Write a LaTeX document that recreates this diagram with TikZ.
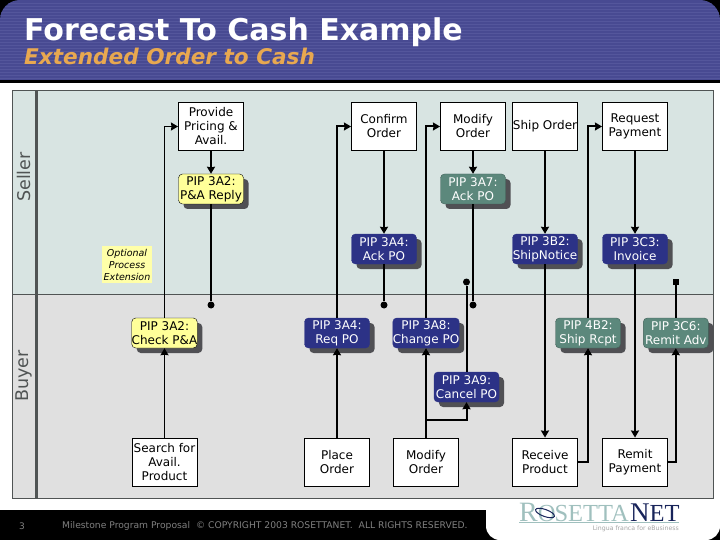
\documentclass[tikz,border=0pt]{standalone}
\usepackage{fontspec}
\setmainfont{DejaVu Sans}
\newfontfamily\logofont{Liberation Serif}
\definecolor{hdrblue}{RGB}{72,74,146}
\definecolor{hdrstripe}{RGB}{84,86,156}
\definecolor{subtitleorange}{RGB}{232,168,80}
\definecolor{sellerbg}{RGB}{216,228,226}
\definecolor{buyerbg}{RGB}{224,224,224}
\definecolor{lanegray}{RGB}{80,84,84}
\definecolor{pipyellow}{RGB}{255,255,153}
\definecolor{pipblue}{RGB}{44,50,134}
\definecolor{pipgreen}{RGB}{92,136,124}
\definecolor{shadowgray}{RGB}{80,80,84}
\definecolor{footgray}{RGB}{128,128,128}
\definecolor{logoteal}{RGB}{160,192,190}
\definecolor{logonavy}{RGB}{24,36,90}
\usetikzlibrary{arrows.meta,positioning,shadows}
\begin{document}
\begin{tikzpicture}[x=1pt, y=-1pt,
  every node/.style={font=\fontsize{12}{14}\selectfont, align=center, inner sep=0pt},
  activity/.style={draw=black, fill=white, line width=1pt, minimum width=65pt, minimum height=48.5pt},
  pip/.style={rounded corners=4pt, minimum width=65pt, minimum height=30pt,
              drop shadow={shadow xshift=5pt, shadow yshift=-5pt, fill=shadowgray, opacity=1}},
  pipy/.style={pip, draw=black, fill=pipyellow, text=black},
  pipb/.style={pip, draw=pipblue, fill=pipblue, text=white},
  pipg/.style={pip, draw=pipgreen!70!black, fill=pipgreen, text=white},
  flow/.style={-{Stealth[length=7pt,width=8pt,inset=0.5pt]}, black, line width=2pt},
  thinflow/.style={-{Stealth[length=7pt,width=8pt,inset=0.5pt]}, black, line width=1.3pt},
  plainflow/.style={black, line width=2pt},
  dotend/.style={circle, fill=black, minimum size=7pt},
  squareend/.style={rectangle, fill=black, minimum size=6pt},
]
\useasboundingbox (0,0) rectangle (720,540);

% Page and header band
\fill[black] (0,0) rectangle (720,540);
\fill[white] (0,83) rectangle (720,510);
\fill[white, rounded corners=14pt] (486,490) rectangle (720,540);
\begin{scope}
  \clip (0,80) [rounded corners=20pt] -- (0,0) -- (720,0) [sharp corners] -- (720,80) -- cycle;
  \fill[hdrblue] (0,0) rectangle (720,80);
  \foreach \y in {3,6,...,78} {
    \draw[hdrstripe, line width=0.7pt] (0,\y) -- (720,\y);
  }
\end{scope}
\node[anchor=base west, text=white, font=\fontsize{30}{32}\selectfont\bfseries] (title) at (24,41) {Forecast To Cash Example};
\node[anchor=base west, text=subtitleorange, font=\fontsize{21.6}{24}\selectfont\bfseries\itshape] (subtitle) at (24,65) {Extended Order to Cash};

% Swim lanes
\fill[sellerbg] (13,90.5) rectangle (713,294);
\fill[buyerbg] (13,294) rectangle (713,498);
\draw[lanegray, line width=1pt] (12.5,90.5) rectangle (713.5,498);
\draw[lanegray, line width=1pt] (12.5,294) -- (713.5,294);
\draw[lanegray, line width=3pt] (36.5,90.5) -- (36.5,498);
\node[rotate=90, text=lanegray, font=\fontsize{17.5}{18}\selectfont] (seller) at (24,177) {Seller};
\node[rotate=90, text=lanegray, font=\fontsize{17.5}{18}\selectfont] (buyer) at (24,376) {Buyer};
\node[fill=pipyellow!85, minimum width=50pt, minimum height=37pt,
      font=\fontsize{9.5}{12}\selectfont\itshape] (note) at (127,264.5) {Optional\\Process\\Extension};

% Seller activities
\node[activity] (provide) at (211,126.5) {Provide\\Pricing \&\\Avail.};
\node[activity] (confirm) at (384,126.5) {Confirm\\Order};
\node[activity] (modifys) at (473,126.5) {Modify\\Order};
\node[activity] (ship) at (545,126.5) {Ship Order};
\node[activity] (request) at (635,126.5) {Request\\Payment};

% Buyer activities
\node[activity] (search) at (164.5,462.3) {Search for\\Avail.\\Product};
\node[activity] (place) at (337,462.3) {Place\\Order};
\node[activity] (modifyb) at (426,462.3) {Modify\\Order};
\node[activity] (receive) at (545,462.3) {Receive\\Product};
\node[activity] (remit) at (635,462.3) {Remit\\Payment};

% PIP messages, seller side
\node[pipy] (reply) at (211,189) {PIP 3A2:\\P\&A Reply};
\node[pipg] (ackmod) at (473,189) {PIP 3A7:\\Ack PO};
\node[pipb] (ackpo) at (384,249) {PIP 3A4:\\Ack PO};
\node[pipb] (notice) at (545,249) {PIP 3B2:\\ShipNotice};
\node[pipb] (invoice) at (635,249) {PIP 3C3:\\Invoice};

% PIP messages, buyer side
\node[pipy] (check) at (164.5,333) {PIP 3A2:\\Check P\&A};
\node[pipb] (reqpo) at (337,333) {PIP 3A4:\\Req PO};
\node[pipb] (change) at (426,333) {PIP 3A8:\\Change PO};
\node[pipg] (rcpt) at (588,333) {PIP 4B2:\\Ship Rcpt};
\node[pipg] (adv) at (675.8,333) {PIP 3C6:\\Remit Adv};
\node[pipb] (cancel) at (466.5,387) {PIP 3A9:\\Cancel PO};

% Flow ends
\node[dotend] (endreply) at (211,305) {};
\node[dotend] (endack) at (384,305) {};
\node[dotend] (endmod) at (473,305) {};
\node[dotend] (endcancel) at (466.5,282) {};
\node[squareend] (endadv) at (675.8,282) {};
\coordinate (branch) at (426,420);

% Availability check
\draw[thinflow] (search.north) -- (check.south);
\draw[thinflow] (check.north) |- (provide.west);
\draw[flow] (provide.south) -- (reply.north);
\draw[plainflow] (reply.south) -- (endreply);

% Order
\draw[flow] (place.north) -- (reqpo.south);
\draw[flow] (reqpo.north) |- (confirm.west);
\draw[flow] (confirm.south) -- (ackpo.north);
\draw[plainflow] (ackpo.south) -- (endack);

% Change and cancel
\draw[flow] (modifyb.north) -- (change.south);
\draw[flow] (change.north) |- (modifys.west);
\draw[flow] (modifys.south) -- (ackmod.north);
\draw[plainflow] (ackmod.south) -- (endmod);
\draw[flow] (branch) -| (cancel.south);
\draw[plainflow] (cancel.north) -- (endcancel);

% Shipping and payment
\draw[flow] (ship.south) -- (notice.north);
\draw[flow] (notice.south) -- (receive.north);
\draw[flow] (receive.east) -| (rcpt.south);
\draw[flow] (rcpt.north) |- (request.west);
\draw[flow] (request.south) -- (invoice.north);
\draw[flow] (invoice.south) -- (remit.north);
\draw[flow] (remit.east) -| (adv.south);
\draw[plainflow] (adv.north) -- (endadv);

% Footer
\node[text=footgray, font=\fontsize{9}{10}\selectfont] (page) at (22,526) {3};
\node[anchor=west, text=footgray, font=\fontsize{9.2}{10}\selectfont] (foot) at (62,526)
  {Milestone Program Proposal \ © COPYRIGHT 2003 ROSETTANET. \ ALL RIGHTS RESERVED.};

% Logo
\node[anchor=base west, font=\logofont\fontsize{24.5}{26}\selectfont, text=logoteal] (logoa) at (519,521)
  {{\fontsize{28}{30}\selectfont R}O\kern-1pt SETTA};
\node[anchor=base west, font=\logofont\fontsize{24.5}{26}\selectfont, text=logonavy] (logob) at (630,521)
  {{\fontsize{27}{30}\selectfont N}ET};
\draw[logonavy, line width=1pt, rotate around={-20:(545,513)}] (545,513) ellipse (10pt and 3.5pt);
\draw[logoteal, line width=0.7pt] (519,522.5) -- (679,522.5);
\node[anchor=east, text=footgray!70, font=\fontsize{6.2}{7}\selectfont] (tagline) at (679,528.5) {Lingua franca for eBusiness};
\end{tikzpicture}
\end{document}
